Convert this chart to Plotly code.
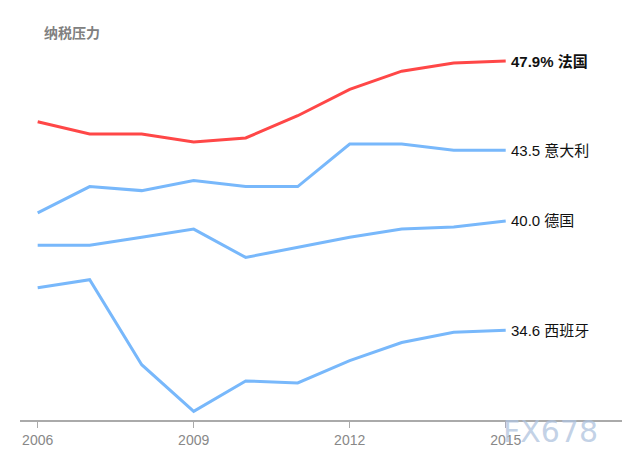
import plotly.graph_objects as go

years = list(range(2006, 2016))
france = [44.9, 44.3, 44.3, 43.9, 44.1, 45.2, 46.5, 47.4, 47.8, 47.9]
italy = [40.4, 41.7, 41.5, 42.0, 41.7, 41.7, 43.8, 43.8, 43.5, 43.5]
germany = [38.8, 38.8, 39.2, 39.6, 38.2, 38.7, 39.2, 39.6, 39.7, 40.0]
spain = [36.7, 37.1, 32.9, 30.6, 32.1, 32.0, 33.1, 34.0, 34.5, 34.6]

series = [
    ("法国", france, "#ff4747", True),
    ("意大利", italy, "#78b8fb", False),
    ("德国", germany, "#78b8fb", False),
    ("西班牙", spain, "#78b8fb", False),
]
tick_years = [2006, 2009, 2012, 2015]

font_family = "Liberation Sans, Noto Sans CJK SC, sans-serif"

fig = go.Figure()
for name, vals, color, _ in series[::-1]:
    fig.add_trace(go.Scatter(x=years, y=vals, mode="lines", name=name,
                             line=dict(color=color, width=3), hoverinfo="skip"))

for name, vals, color, bold in series:
    v = vals[-1]
    txt = f"{v:.1f}% {name}" if bold else f"{v:.1f} {name}"
    if bold:
        txt = f"<b>{txt}</b>"
    fig.add_annotation(x=years[-1], y=v, text=txt, showarrow=False,
                       xanchor="left", yanchor="middle", xshift=3,
                       font=dict(size=15, color="#111", family=font_family))

fig.add_annotation(xref="paper", yref="paper", x=0.036, y=1.0, yanchor="bottom", yshift=-3,
                   xanchor="left", text="<b>纳税压力</b>", showarrow=False,
                   font=dict(size=14, color="#808080", family=font_family))

fig.add_annotation(xref="paper", yref="paper", x=0.95, y=0.0, xanchor="right", yanchor="top",
                   yshift=8, text="FX678", showarrow=False,
                   font=dict(size=30, color="rgba(175,195,222,0.75)", family="DejaVu Sans"))

fig.update_layout(
    width=630, height=468,
    margin=dict(l=12, r=8, t=32, b=56),
    plot_bgcolor="white", paper_bgcolor="white",
    showlegend=False,
    xaxis=dict(range=[2005.66, 2017.39], tickvals=tick_years, ticktext=[str(t) for t in tick_years],
               showgrid=False, zeroline=False, showline=True, linecolor="#aaaaaa", linewidth=1.5,
               ticks="outside", ticklen=6, tickcolor="#aaaaaa",
               tickfont=dict(size=14, color="#888888", family=font_family)),
    yaxis=dict(range=[30.17, 48.94], visible=False, showgrid=False, zeroline=False),
)

fig.write_html("out.html")
